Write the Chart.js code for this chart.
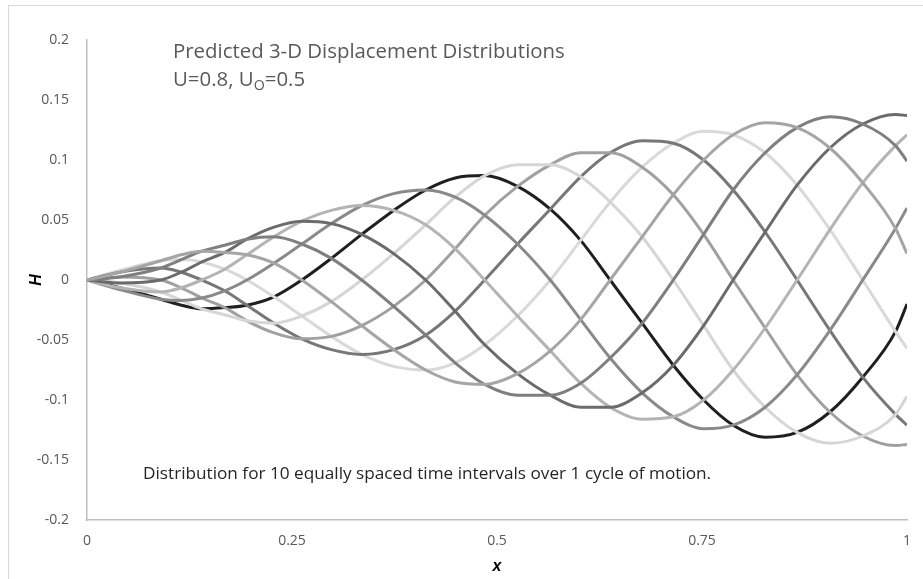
<!DOCTYPE html>
<html>
<head>
<meta charset="utf-8">
<script src="https://cdn.jsdelivr.net/npm/chart.js@4/dist/chart.umd.min.js"></script>
<style>
  html, body { margin: 0; padding: 0; background: #fff; overflow: hidden; }
  #wrap { position: relative; width: 923px; height: 579px; }
  #frame { position: absolute; left: 8px; top: 5px; width: 940px; height: 600px; border: 1px solid #d9d9d9; }
  canvas { position: absolute; left: 0; top: 0; }
  .note { position: absolute; font-family: "Open Sans", sans-serif; white-space: nowrap; line-height: normal; }
  #title1 { left: 173px; top: 36px; font-size: 20.4px; color: #595959; }
  #title2 { left: 173px; top: 64px; font-size: 20.4px; color: #595959; }
  #caption { left: 143px; top: 461px; font-size: 17.2px; color: #262626; }
  sub { font-size: 0.7em; vertical-align: -0.3em; line-height: 0; }
</style>
</head>
<body>
<div id="wrap">
  <div id="frame"></div>
  <canvas id="chart" width="923" height="579"></canvas>
  <div class="note" id="title1">Predicted 3-D Displacement Distributions</div>
  <div class="note" id="title2">U=0.8, U<sub>O</sub>=0.5</div>
  <div class="note" id="caption">Distribution for 10 equally spaced time intervals over 1 cycle of motion.</div>
</div>
<script>
// x positions shared by all ten time steps (crests, troughs and zero crossings)
const xValues = [0, 0.04, 0.09, 0.115, 0.14, 0.168, 0.195, 0.228, 0.262, 0.298, 0.335, 0.374, 0.413, 0.449, 0.485,
  0.525, 0.565, 0.602, 0.638, 0.677, 0.715, 0.752, 0.788, 0.827, 0.866, 0.906, 0.946, 0.986, 1];

// displacement H, one array per time step
const step1 = [0, 0.0065, 0.016, 0.021, 0.024, 0.023, 0.021, 0.014, 0, -0.018, -0.038, -0.058, -0.075, -0.085, -0.087,
  -0.078, -0.059, -0.033, 0, 0.036, 0.071, 0.100, 0.121, 0.131, 0.127, 0.110, 0.081, 0.043, 0.022];
const step2 = [0, 0.0025, 0.010, 0.017, 0.024, 0.029, 0.034, 0.036, 0.030, 0.018, 0, -0.022, -0.046, -0.069, -0.087,
  -0.096, -0.096, -0.086, -0.065, -0.036, 0, 0.038, 0.075, 0.106, 0.127, 0.136, 0.130, 0.112, 0.099];
const step3 = [0, -0.0025, 0, 0.0065, 0.015, 0.023, 0.034, 0.044, 0.049, 0.047, 0.038, 0.022, 0, -0.026, -0.054,
  -0.078, -0.096, -0.106, -0.106, -0.094, -0.071, -0.038, 0, 0.040, 0.079, 0.110, 0.130, 0.138, 0.137];
const step4 = [0, -0.0065, -0.010, -0.0065, 0, 0.009, 0.021, 0.036, 0.049, 0.058, 0.062, 0.058, 0.046, 0.026, 0,
  -0.030, -0.059, -0.086, -0.106, -0.116, -0.114, -0.100, -0.075, -0.040, 0, 0.042, 0.081, 0.112, 0.121];
const step5 = [0, -0.008, -0.016, -0.017, -0.015, -0.009, 0, 0.014, 0.030, 0.047, 0.062, 0.072, 0.075, 0.069, 0.054,
  0.030, 0, -0.033, -0.065, -0.094, -0.114, -0.124, -0.121, -0.106, -0.079, -0.042, 0, 0.043, 0.060];
const step6 = [0, -0.0065, -0.016, -0.021, -0.024, -0.023, -0.021, -0.014, 0, 0.018, 0.038, 0.058, 0.075, 0.085, 0.087,
  0.078, 0.059, 0.033, 0, -0.036, -0.071, -0.100, -0.121, -0.131, -0.127, -0.110, -0.081, -0.043, -0.020];
const step7 = [0, -0.0025, -0.010, -0.017, -0.024, -0.029, -0.034, -0.036, -0.030, -0.018, 0, 0.022, 0.046, 0.069, 0.087,
  0.096, 0.096, 0.086, 0.065, 0.036, 0, -0.038, -0.075, -0.106, -0.127, -0.136, -0.130, -0.112, -0.097];
const step8 = [0, 0.0025, 0, -0.0065, -0.015, -0.023, -0.034, -0.044, -0.049, -0.047, -0.038, -0.022, 0, 0.026, 0.054,
  0.078, 0.096, 0.106, 0.106, 0.094, 0.071, 0.038, 0, -0.040, -0.079, -0.110, -0.130, -0.138, -0.137];
const step9 = [0, 0.0065, 0.010, 0.0065, 0, -0.009, -0.021, -0.036, -0.049, -0.058, -0.062, -0.058, -0.046, -0.026, 0,
  0.030, 0.059, 0.086, 0.106, 0.116, 0.114, 0.100, 0.075, 0.040, 0, -0.042, -0.081, -0.112, -0.121];
const step10 = [0, 0.008, 0.016, 0.017, 0.015, 0.009, 0, -0.014, -0.030, -0.047, -0.062, -0.072, -0.075, -0.069, -0.054,
  -0.030, 0, 0.033, 0.065, 0.094, 0.114, 0.124, 0.121, 0.106, 0.079, 0.042, 0, -0.043, -0.057];

const xTicks = [0, 0.25, 0.5, 0.75, 1];
const yTicks = [-0.2, -0.15, -0.1, -0.05, 0, 0.05, 0.1, 0.15, 0.2];

// grey shade of each time step, black one drawn last
const series = [
  { values: step1, color: '#a5a5a5' },
  { values: step2, color: '#7f7f7f' },
  { values: step3, color: '#6b6b6b' },
  { values: step4, color: '#b4b4b4' },
  { values: step5, color: '#8a8a8a' },
  { values: step7, color: '#d6d6d6' },
  { values: step8, color: '#a0a0a0' },
  { values: step9, color: '#777777' },
  { values: step10, color: '#d9d9d9' },
  { values: step6, color: '#1f1f1f' },
];

const datasets = series.map(s => ({
  data: s.values.map((v, i) => ({ x: xValues[i], y: v })),
  borderColor: s.color,
  borderWidth: 3,
  pointRadius: 0,
  fill: false,
  cubicInterpolationMode: 'monotone',
}));

const tickFont = { family: '"Open Sans", sans-serif', size: 14 };
const titleFont = { family: '"Liberation Sans", Arial, sans-serif', size: 16, weight: 'bold', style: 'italic' };
const plainLabel = v => String(Math.round(v * 1000) / 1000);

new Chart(document.getElementById('chart').getContext('2d'), {
  type: 'line',
  data: { datasets },
  options: {
    responsive: false,
    animation: false,
    devicePixelRatio: 1,
    layout: { padding: { top: 40, right: 16, left: 0, bottom: 0 } },
    plugins: { legend: { display: false }, tooltip: { enabled: false } },
    scales: {
      x: {
        type: 'linear',
        min: 0,
        max: 1,
        afterFit: scale => { scale.height = 59; scale.paddingLeft = 0; scale.paddingRight = 0; },
        afterBuildTicks: scale => { scale.ticks = xTicks.map(v => ({ value: v })); },
        grid: { display: false, drawTicks: false },
        border: { color: '#bfbfbf', width: 1.5 },
        ticks: { color: '#595959', font: tickFont, padding: 13, maxRotation: 0, callback: plainLabel },
        title: { display: true, text: 'x', color: '#000', font: titleFont, padding: { top: 0, bottom: 3 } },
      },
      y: {
        type: 'linear',
        min: -0.2,
        max: 0.2,
        afterFit: scale => { scale.width = 87; scale.paddingTop = 0; scale.paddingBottom = 0; },
        afterBuildTicks: scale => { scale.ticks = yTicks.map(v => ({ value: v })); },
        grid: { display: false, drawTicks: false },
        border: { color: '#bfbfbf', width: 1.5 },
        ticks: { color: '#595959', font: tickFont, padding: 18, callback: plainLabel },
        title: { display: true, text: 'H', color: '#000', font: titleFont, padding: { top: 27, bottom: 0 } },
      },
    },
  },
});
</script>
</body>
</html>
